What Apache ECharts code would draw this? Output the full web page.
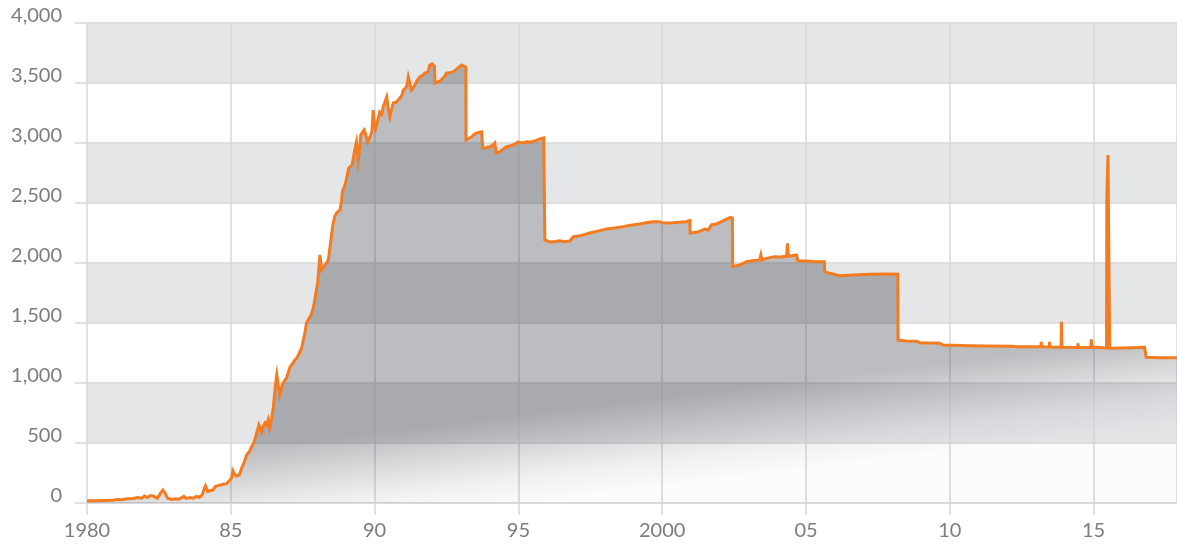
<!DOCTYPE html>
<html>
<head>
<meta charset="utf-8">
<script src="https://cdn.jsdelivr.net/npm/echarts@6/dist/echarts.min.js"></script>
<style>
  html, body { margin: 0; padding: 0; background: #ffffff; }
  #chart { width: 1177px; height: 546px; }
</style>
</head>
<body>
<div id="chart"></div>
<script>
const years = [
  1980.00, 1980.30, 1980.60, 1980.90, 1981.04, 1981.20, 1981.40, 1981.60, 1981.75, 1981.90,
  1982.00, 1982.10, 1982.20, 1982.30, 1982.45, 1982.55, 1982.64, 1982.72, 1982.80, 1982.95,
  1983.10, 1983.20, 1983.30, 1983.37, 1983.45, 1983.60, 1983.70, 1983.80, 1983.90, 1984.00,
  1984.08, 1984.12, 1984.20, 1984.24, 1984.30, 1984.38, 1984.45, 1984.55, 1984.65, 1984.76,
  1984.85, 1984.97, 1985.03, 1985.07, 1985.13, 1985.20, 1985.30, 1985.38, 1985.45, 1985.55,
  1985.65, 1985.72, 1985.80, 1985.90, 1985.98, 1986.07, 1986.13, 1986.19, 1986.25, 1986.30,
  1986.35, 1986.42, 1986.48, 1986.55, 1986.60, 1986.65, 1986.70, 1986.76, 1986.82, 1986.88,
  1986.94, 1987.00, 1987.06, 1987.15, 1987.23, 1987.30, 1987.40, 1987.46, 1987.52, 1987.58,
  1987.63, 1987.72, 1987.79, 1987.85, 1987.90, 1987.96, 1988.02, 1988.06, 1988.10, 1988.13,
  1988.16, 1988.22, 1988.27, 1988.33, 1988.39, 1988.45, 1988.50, 1988.56, 1988.62, 1988.68,
  1988.74, 1988.80, 1988.85, 1988.88, 1988.94, 1988.99, 1989.05, 1989.10, 1989.16, 1989.22,
  1989.28, 1989.31, 1989.37, 1989.43, 1989.48, 1989.52, 1989.58, 1989.64, 1989.70, 1989.76,
  1989.82, 1989.87, 1989.91, 1989.95, 1989.99, 1990.03, 1990.10, 1990.18, 1990.25, 1990.30,
  1990.36, 1990.42, 1990.47, 1990.53, 1990.59, 1990.65, 1990.75, 1990.88, 1990.95, 1991.00,
  1991.06, 1991.11, 1991.17, 1991.22, 1991.28, 1991.34, 1991.40, 1991.48, 1991.57, 1991.65,
  1991.75, 1991.86, 1991.92, 1992.00, 1992.04, 1992.08, 1992.10, 1992.20, 1992.30, 1992.38,
  1992.45, 1992.50, 1992.60, 1992.73, 1992.82, 1992.90, 1993.02, 1993.10, 1993.17, 1993.18,
  1993.28, 1993.37, 1993.45, 1993.54, 1993.65, 1993.72, 1993.76, 1993.88, 1994.00, 1994.10,
  1994.18, 1994.22, 1994.35, 1994.45, 1994.58, 1994.70, 1994.82, 1994.99, 1995.16, 1995.30,
  1995.45, 1995.60, 1995.75, 1995.88, 1995.91, 1995.92, 1996.09, 1996.30, 1996.44, 1996.60,
  1996.79, 1996.90, 1997.20, 1997.48, 1997.80, 1998.06, 1998.35, 1998.64, 1998.90, 1999.22,
  1999.45, 1999.68, 1999.92, 2000.03, 2000.38, 2000.60, 2000.84, 2000.96, 2000.97, 2001.24,
  2001.48, 2001.60, 2001.71, 2001.88, 2002.06, 2002.23, 2002.37, 2002.44, 2002.45, 2002.70,
  2002.93, 2003.20, 2003.39, 2003.43, 2003.47, 2003.62, 2003.91, 2004.10, 2004.32, 2004.36,
  2004.39, 2004.67, 2004.71, 2004.72, 2005.01, 2005.36, 2005.64, 2005.65, 2005.83, 2006.17,
  2006.64, 2007.22, 2007.80, 2008.19, 2008.20, 2008.49, 2008.84, 2008.95, 2009.65, 2009.76,
  2010.69, 2011.27, 2012.19, 2012.31, 2013.17, 2013.18, 2013.19, 2013.46, 2013.47, 2013.48,
  2013.87, 2013.88, 2013.90, 2014.45, 2014.46, 2014.47, 2014.90, 2014.92, 2014.94, 2015.45,
  2015.46, 2015.49, 2015.50, 2015.55, 2015.56, 2016.36, 2016.77, 2016.82, 2016.83, 2017.30,
  2017.90
];
const values = [
  18, 18, 20, 22, 30, 28, 35, 38, 45, 40,
  58, 45, 62, 58, 40, 80, 108, 80, 40, 30,
  35, 32, 45, 55, 38, 45, 40, 55, 48, 65,
  120, 142, 95, 83, 105, 108, 135, 145, 150, 158,
  160, 192, 210, 267, 240, 225, 235, 292, 330, 400,
  430, 467, 500, 583, 650, 592, 640, 667, 650, 692,
  625, 700, 800, 980, 1067, 980, 900, 960, 1000, 1010,
  1042, 1090, 1133, 1160, 1192, 1210, 1258, 1290, 1358, 1420,
  1500, 1540, 1567, 1610, 1667, 1750, 1833, 1950, 2067, 2000,
  1942, 1960, 1983, 2000, 2025, 2133, 2230, 2333, 2390, 2417,
  2430, 2442, 2520, 2592, 2630, 2667, 2730, 2792, 2800, 2817,
  2900, 2942, 3008, 2858, 2950, 3067, 3090, 3108, 3060, 3008,
  3040, 3067, 3100, 3275, 3150, 3117, 3180, 3258, 3240, 3300,
  3310, 3383, 3300, 3217, 3280, 3333, 3340, 3375, 3400, 3442,
  3450, 3467, 3550, 3500, 3442, 3460, 3483, 3520, 3550, 3560,
  3583, 3592, 3650, 3660, 3675, 3640, 3500, 3508, 3520, 3542,
  3560, 3583, 3585, 3592, 3610, 3625, 3650, 3640, 3633, 3025,
  3040, 3050, 3070, 3083, 3090, 3092, 2958, 2960, 2967, 2980,
  3000, 2917, 2925, 2945, 2967, 2975, 2983, 3008, 3000, 3010,
  3008, 3020, 3033, 3042, 3042, 2192, 2175, 2180, 2186, 2178,
  2183, 2217, 2230, 2250, 2268, 2283, 2292, 2303, 2315, 2325,
  2335, 2344, 2344, 2333, 2336, 2340, 2344, 2353, 2250, 2258,
  2283, 2275, 2317, 2325, 2344, 2364, 2380, 2375, 1969, 1983,
  2011, 2020, 2025, 2067, 2025, 2039, 2053, 2050, 2056, 2164,
  2056, 2067, 2060, 2017, 2017, 2011, 2010, 1928, 1914, 1894,
  1900, 1906, 1908, 1906, 1358, 1350, 1348, 1336, 1331, 1317,
  1311, 1308, 1307, 1303, 1302, 1344, 1302, 1300, 1344, 1300,
  1298, 1511, 1298, 1296, 1330, 1296, 1296, 1364, 1300, 1292,
  2540, 2540, 2900, 2900, 1289, 1294, 1297, 1296, 1214, 1211,
  1211
];
const xTickValues = [1980, 1985, 1990, 1995, 2000, 2005, 2010, 2015];
const xTickLabels = ['1980', '85', '90', '95', '2000', '05', '10', '15'];
const yTickValues = [0, 500, 1000, 1500, 2000, 2500, 3000, 3500, 4000];
const yTickLabels = ['0', '500', '1,000', '1,500', '2,000', '2,500', '3,000', '3,500', '4,000'];

const points = years.map((y, i) => [y, values[i]]);

const gridColor = '#d7d8da';
const labelColor = '#7d7d7d';
const fontFamily = 'Lato, "Open Sans", sans-serif';

const chart = echarts.init(document.getElementById('chart'), null, { renderer: 'canvas' });
chart.setOption({
  animation: false,
  backgroundColor: '#ffffff',
  grid: { left: 87, right: 0, top: 23, bottom: 43 },
  xAxis: {
    type: 'value',
    min: 1980,
    max: 2017.9,
    interval: 5,
    axisLine: { show: true, lineStyle: { color: gridColor, width: 1.5 } },
    axisTick: { show: true, length: 12, lineStyle: { color: gridColor, width: 1.5 } },
    splitLine: { show: true, lineStyle: { color: gridColor, width: 1.5 } },
    axisLabel: {
      color: labelColor,
      fontFamily: fontFamily,
      fontSize: 20,
      margin: 18,
      showMaxLabel: false,
      formatter: function (v) {
        const i = xTickValues.indexOf(Math.round(v * 100) / 100);
        return i >= 0 ? xTickLabels[i] : '';
      }
    }
  },
  yAxis: {
    type: 'value',
    min: 0,
    max: 4000,
    interval: 500,
    axisLine: { show: false },
    axisTick: { show: true, length: 12, lineStyle: { color: gridColor, width: 1.5 } },
    splitLine: { show: true, lineStyle: { color: gridColor, width: 1.5 } },
    splitArea: { show: true, areaStyle: { color: ['rgba(255,255,255,0)', '#e5e6e8'] } },
    axisLabel: {
      color: labelColor,
      fontFamily: fontFamily,
      fontSize: 20,
      margin: 25,
      verticalAlign: 'bottom',
      lineHeight: 14,
      formatter: function (v) {
        const i = yTickValues.indexOf(v);
        return i >= 0 ? yTickLabels[i] : '';
      }
    }
  },
  series: [{
    type: 'line',
    data: points,
    showSymbol: false,
    symbol: 'none',
    lineStyle: { color: '#f47b20', width: 3, join: 'miter' },
    areaStyle: {
      opacity: 1,
      color: {
        type: 'linear',
        x: 600, y: 405, x2: 611, y2: 494,
        global: true,
        colorStops: [
          { offset: 0, color: 'rgba(8,10,22,0.27)' },
          { offset: 0.35, color: 'rgba(8,10,22,0.16)' },
          { offset: 0.7, color: 'rgba(8,10,22,0.06)' },
          { offset: 1, color: 'rgba(8,10,22,0.015)' }
        ]
      }
    },
    z: 3
  }]
});
</script>
</body>
</html>
